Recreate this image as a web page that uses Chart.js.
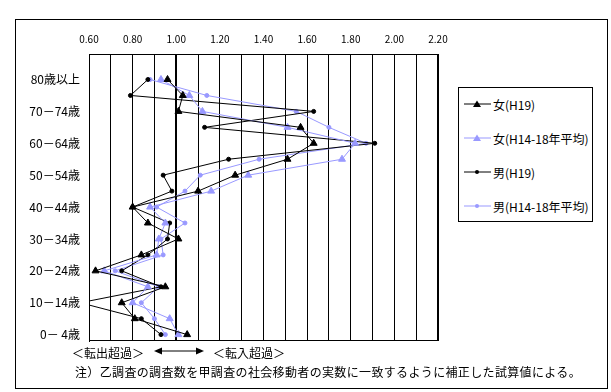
<!DOCTYPE html>
<html>
<head>
<meta charset="utf-8">
<script src="https://cdn.jsdelivr.net/npm/chart.js@4.4.0/dist/chart.umd.min.js"></script>
<style>
    body { margin: 0; background: #fff; font-family: 'Noto Sans CJK JP', sans-serif; }
    #wrap { position: relative; width: 611px; height: 392px; }
    #chart { position: absolute; left: 0; top: 0; }
    .frame { position: absolute; left: 15px; top: 19px; width: 593px; height: 370px; border: 1px solid #000; box-sizing: border-box; pointer-events: none; }
    .legend { position: absolute; left: 458px; top: 87px; width: 135px; height: 135px; border: 1px solid #000; box-sizing: border-box; background: #fff; }
    .legend-item { position: absolute; left: 5px; height: 16px; display: flex; align-items: center; font-size: 12px; white-space: nowrap; }
    .legend-item svg { margin-right: 2px; }
    .txt { position: absolute; font-size: 12px; white-space: nowrap; line-height: 14px; }
</style>
</head>
<body>
<div id="wrap">
    <canvas id="chart" width="611" height="392"></canvas>
    <div class="frame"></div>
    <div class="legend" id="legend"></div>
    <div class="txt" style="left:72px; top:346px;">＜転出超過＞</div>
    <svg style="position:absolute; left:154px; top:346px;" width="50" height="10">
        <line x1="6" y1="5" x2="44" y2="5" stroke="#000" stroke-width="1"/>
        <polygon points="0,5 8,1.5 8,8.5" fill="#000"/>
        <polygon points="50,5 42,1.5 42,8.5" fill="#000"/>
    </svg>
    <div class="txt" style="left:213px; top:346px;">＜転入超過＞</div>
    <div class="txt" style="left:75px; top:365px; letter-spacing:0.35px;">注）乙調査の調査数を甲調査の社会移動者の実数に一致するように補正した試算値による。</div>
</div>
<script>
const ageGroups = ['0－ 4歳', '5－ 9歳', '10－14歳', '15－19歳', '20－24歳', '25－29歳', '30－34歳', '35－39歳',
    '40－44歳', '45－49歳', '50－54歳', '55－59歳', '60－64歳', '65－69歳', '70－74歳', '75－79歳', '80歳以上'];
const ageMid = [2, 7, 12, 17, 22, 27, 32, 37, 42, 47, 52, 57, 62, 67, 72, 77, 82];

const femaleH19 = [1.05, 0.81, 0.75, 0.95, 0.63, 0.84, 1.01, 0.87, 0.80, 1.10, 1.27, 1.51, 1.63, 1.57, 1.01, 1.03, 0.96];
const femaleAvg = [1.01, 0.97, 0.80, 0.87, 0.67, 0.91, 0.92, 0.95, 0.88, 1.16, 1.33, 1.76, 1.82, 1.51, 1.12, 1.06, 0.93];
const maleH19 = [0.93, 0.84, 0.56, 0.93, 0.75, 0.87, 0.96, 0.97, 0.80, 0.98, 0.94, 1.24, 1.91, 1.13, 1.63, 0.79, 0.87];
const maleAvg = [0.95, 0.90, 0.84, 0.92, 0.72, 0.94, 0.93, 1.04, 0.91, 1.04, 1.11, 1.38, 1.87, 1.70, 1.55, 1.14, 0.88];

const seriesNames = ['女(H19)', '女(H14-18年平均)', '男(H19)', '男(H14-18年平均)'];
const seriesValues = [femaleH19, femaleAvg, maleH19, maleAvg];
const seriesColors = ['#000000', '#9999FF', '#000000', '#9999FF'];
const seriesMarkers = ['triangle', 'triangle', 'circle', 'circle'];

const toPoints = (vals) => vals.map((v, i) => ({ x: v, y: ageMid[i] }));

const datasets = seriesNames.map((name, k) => ({
    label: name,
    data: toPoints(seriesValues[k]),
    showLine: true,
    borderColor: seriesColors[k],
    backgroundColor: seriesColors[k],
    borderWidth: 1,
    pointStyle: seriesMarkers[k],
    pointRadius: seriesMarkers[k] === 'triangle' ? 4 : 2,
    pointBorderWidth: 1,
    tension: 0
}));

const frameBox = {
    id: 'frameBox',
    afterDraw(chart) {
        const { ctx, chartArea: a } = chart;
        ctx.save();
        ctx.strokeStyle = '#000';
        ctx.lineWidth = 1;
        ctx.strokeRect(a.left + 0.5, a.top + 0.5, a.right - a.left - 1, a.bottom - a.top - 1);
        ctx.restore();
    }
};

new Chart(document.getElementById('chart'), {
    type: 'scatter',
    data: { datasets },
    options: {
        responsive: false,
        animation: false,
        layout: { padding: { left: 0, top: 0, right: 173, bottom: 51 } },
        plugins: {
            legend: { display: false },
            tooltip: { enabled: false }
        },
        scales: {
            x: {
                type: 'linear',
                position: 'top',
                min: 0.6,
                max: 2.2,
                afterFit: (s) => { s.height = 54; },
                ticks: {
                    stepSize: 0.1,
                    autoSkip: false,
                    maxRotation: 0,
                    padding: 9,
                    color: '#000',
                    font: { family: "'Noto Sans CJK JP', sans-serif", size: 10 },
                    callback: (v, i) => (i % 2 === 0 ? Number(v).toFixed(2) : '')
                },
                grid: {
                    color: '#000',
                    drawTicks: false,
                    lineWidth: (c) => (c.tick && Math.abs(c.tick.value - 1) < 1e-6 ? 2 : 1)
                },
                border: { color: '#000' }
            },
            y: {
                type: 'linear',
                min: 0,
                max: 90,
                afterFit: (s) => { s.width = 89; },
                afterBuildTicks: (s) => {
                    s.ticks = ageMid.filter((_, i) => i % 2 === 0).map((v) => ({ value: v }));
                },
                ticks: {
                    padding: 9,
                    color: '#000',
                    font: { family: "'Noto Sans CJK JP', sans-serif", size: 12 },
                    callback: (v) => ageGroups[ageMid.indexOf(v)]
                },
                grid: { display: false, drawTicks: false },
                border: { color: '#000' }
            }
        }
    },
    plugins: [frameBox, {
        id: 'whiteBg',
        beforeDraw(chart) {
            const { ctx } = chart;
            ctx.save();
            ctx.fillStyle = '#fff';
            ctx.fillRect(0, 0, chart.width, chart.height);
            ctx.restore();
        }
    }]
});

// legend drawn as html next to the plot
const legendEl = document.getElementById('legend');
const legendTops = [8, 42, 76, 110];
seriesNames.forEach((name, k) => {
    const item = document.createElement('div');
    item.className = 'legend-item';
    item.style.top = legendTops[k] + 'px';
    const c = seriesColors[k];
    const marker = seriesMarkers[k] === 'triangle'
        ? `<polygon points="13,1.5 17,8 9,8" fill="${c}"/>`
        : `<circle cx="13" cy="5" r="2" fill="${c}"/>`;
    item.innerHTML = `<svg width="27" height="10"><line x1="0" y1="5" x2="27" y2="5" stroke="${c}" stroke-width="1"/>${marker}</svg><span>${name}</span>`;
    legendEl.appendChild(item);
});
</script>
</body>
</html>
